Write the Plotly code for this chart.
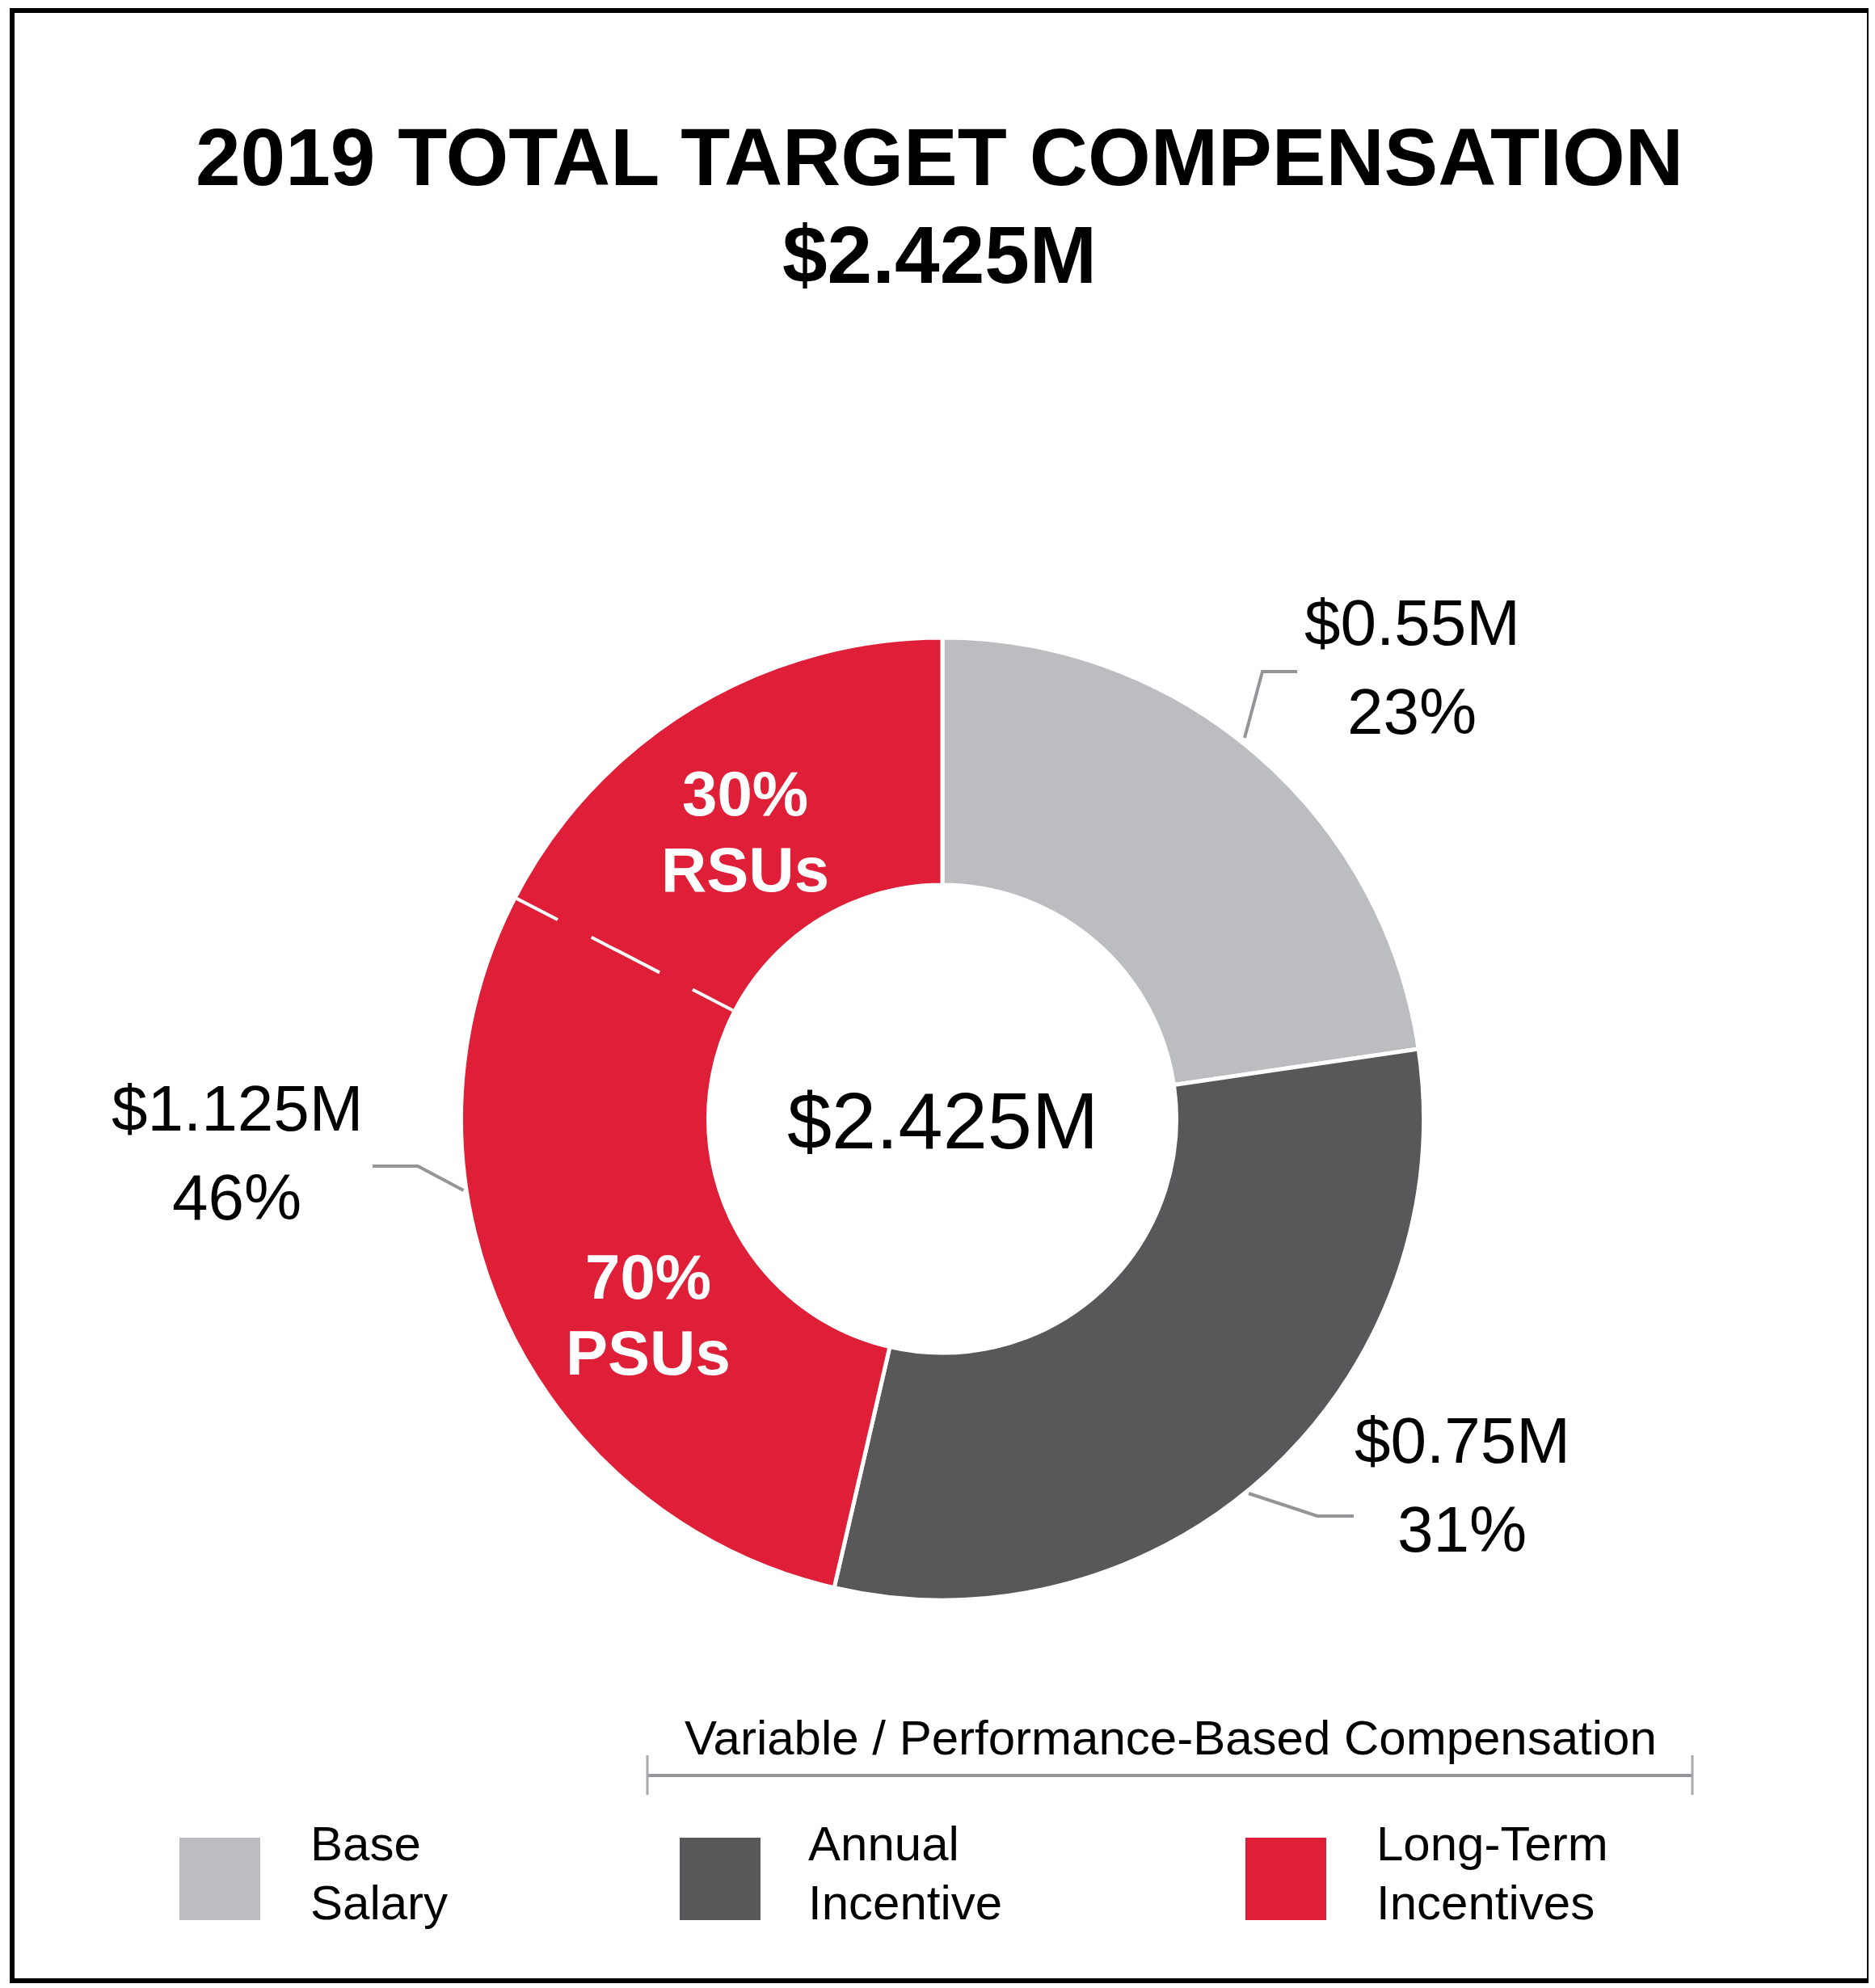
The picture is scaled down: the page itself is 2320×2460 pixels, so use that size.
import math
import plotly.graph_objects as go

# ---------------- data ----------------
components = ["Base Salary", "Annual Incentive", "Long-Term Incentives"]
values_musd = [0.55, 0.75, 1.125]
value_labels = ["$0.55M", "$0.75M", "$1.125M"]
pct_labels = ["23%", "31%", "46%"]
colors = ["#BCBDC0", "#58585A", "#DF1E37"]
legend_lines = [["Base", "Salary"], ["Annual", "Incentive"], ["Long-Term", "Incentives"]]
ltip_parts = ["PSUs", "RSUs"]
ltip_part_pcts = ["70%", "30%"]
ltip_divider_share = 0.625  # share of the LTI arc before the dashed divider, as drawn
total_label = "$2.425M"
title_lines = ["2019 TOTAL TARGET COMPENSATION", "$2.425M"]
bracket_label = "Variable / Performance-Based Compensation"

# ---------------- geometry (screen pixels) ----------------
W, H = 2320, 2460
OFF = 8  # page body margin
CX, CY = 1166, 1384.5
R_OUT, R_IN = 593, 292
EDGE = 5  # white slice outline width
FONT = "Liberation Sans, Arial, Helvetica, sans-serif"
GRAY_LINE = "#939598"


def px(x):
    return (x - OFF) / W


def py(y):
    return 1 - (y - OFF) / H


R_DOM = R_OUT + EDGE / 2
fig = go.Figure()

fig.add_trace(go.Pie(
    values=values_musd,
    labels=components,
    marker=dict(colors=colors, line=dict(color="white", width=EDGE)),
    hole=(R_IN - EDGE / 2) / R_DOM,
    sort=False,
    direction="clockwise",
    rotation=0,
    textinfo="none",
    hoverinfo="label+value",
    showlegend=False,
    domain=dict(x=[px(CX - R_DOM), px(CX + R_DOM)], y=[py(CY + R_DOM), py(CY - R_DOM)]),
))

shapes = []
annotations = []

# frame
shapes.append(dict(type="rect", xref="paper", yref="paper",
                   x0=px(15), x1=px(2313), y0=py(13), y1=py(2451),
                   line=dict(color="black", width=6), fillcolor="rgba(0,0,0,0)", layer="above"))

# dashed divider between PSUs and RSUs, angle from data
total = sum(values_musd)
cum = values_musd[0] + values_musd[1] + values_musd[2] * ltip_divider_share
theta = 2 * math.pi * cum / total
xo, yo = CX + R_OUT * math.sin(theta), CY - R_OUT * math.cos(theta)
xi, yi = CX + R_IN * math.sin(theta), CY - R_IN * math.cos(theta)
shapes.append(dict(type="line", xref="paper", yref="paper",
                   x0=px(xo), y0=py(yo), x1=px(xi), y1=py(yi),
                   line=dict(color="white", width=4, dash="57px,47px,95px,46px,57px"),
                   layer="above"))


def path(points):
    s = ""
    for i, (x, y) in enumerate(points):
        s += ("M" if i == 0 else "L") + f"{px(x):.6f},{py(y):.6f} "
    return s.strip()


# leader lines
leaders = [
    [(1540, 913), (1562, 831), (1605, 831)],
    [(1545, 1848), (1630, 1876), (1675, 1876)],
    [(461, 1443), (517, 1443), (573.5, 1473)],
]
for pts in leaders:
    shapes.append(dict(type="path", xref="paper", yref="paper", path=path(pts),
                       line=dict(color=GRAY_LINE, width=4), layer="above"))

# bracket
shapes.append(dict(type="path", xref="paper", yref="paper",
                   path=path([(801, 2197), (2094, 2197)]),
                   line=dict(color=GRAY_LINE, width=4)))
for bx in (801, 2094):
    shapes.append(dict(type="path", xref="paper", yref="paper",
                       path=path([(bx, 2172), (bx, 2221)]),
                       line=dict(color="#A7A9AC", width=3)))

# legend squares and texts
legend_sq_x = [222, 841, 1541]
legend_txt_x = [382, 998, 1701]
for i in range(3):
    shapes.append(dict(type="rect", xref="paper", yref="paper",
                       x0=px(legend_sq_x[i]), x1=px(legend_sq_x[i] + 100),
                       y0=py(2376), y1=py(2274),
                       line=dict(width=0), fillcolor=colors[i]))
    for j, ty in enumerate((2281, 2354)):
        annotations.append(dict(xref="paper", yref="paper", x=px(legend_txt_x[i]), y=py(ty),
                                text=legend_lines[i][j], showarrow=False,
                                xanchor="left", yanchor="middle",
                                font=dict(family=FONT, size=60, color="black")))

annotations.append(dict(xref="paper", yref="paper", x=px(1448), y=py(2150),
                        text=bracket_label, showarrow=False, xanchor="center", yanchor="middle",
                        font=dict(family=FONT, size=60, color="black")))

# title
for txt, ty in zip(title_lines, (194.5, 315)):
    annotations.append(dict(xref="paper", yref="paper", x=px(1162), y=py(ty),
                            text=f"<b>{txt}</b>", showarrow=False, xanchor="center", yanchor="middle",
                            font=dict(family=FONT, size=100, color="black")))

# center total
annotations.append(dict(xref="paper", yref="paper", x=px(1166), y=py(1386),
                        text=total_label, showarrow=False, xanchor="center", yanchor="middle",
                        font=dict(family=FONT, size=99, color="black")))

# outside labels (value + percent)
label_pos = [(1747, 770.5, 880.5), (1809, 1782, 1892), (293, 1371, 1481.5)]
for i, (lx, y1, y2) in enumerate(label_pos):
    annotations.append(dict(xref="paper", yref="paper", x=px(lx), y=py(y1),
                            text=value_labels[i], showarrow=False, xanchor="center", yanchor="middle",
                            font=dict(family=FONT, size=80, color="black")))
    annotations.append(dict(xref="paper", yref="paper", x=px(lx), y=py(y2),
                            text=pct_labels[i], showarrow=False, xanchor="center", yanchor="middle",
                            font=dict(family=FONT, size=80, color="black")))

# PSU / RSU labels inside the red slice
inner_pos = [(801.5, 1580, 1674), (922, 982, 1076)]
for i, (lx, y1, y2) in enumerate(inner_pos):
    annotations.append(dict(xref="paper", yref="paper", x=px(lx), y=py(y1),
                            text=f"<b>{ltip_part_pcts[i]}</b>", showarrow=False,
                            xanchor="center", yanchor="middle",
                            font=dict(family=FONT, size=78, color="white")))
    annotations.append(dict(xref="paper", yref="paper", x=px(lx), y=py(y2),
                            text=f"<b>{ltip_parts[i]}</b>", showarrow=False,
                            xanchor="center", yanchor="middle",
                            font=dict(family=FONT, size=78, color="white")))

fig.update_layout(
    width=W, height=H,
    margin=dict(l=0, r=0, t=0, b=0),
    paper_bgcolor="white", plot_bgcolor="white",
    shapes=shapes, annotations=annotations,
    showlegend=False,
)

fig.write_html("out.html")
